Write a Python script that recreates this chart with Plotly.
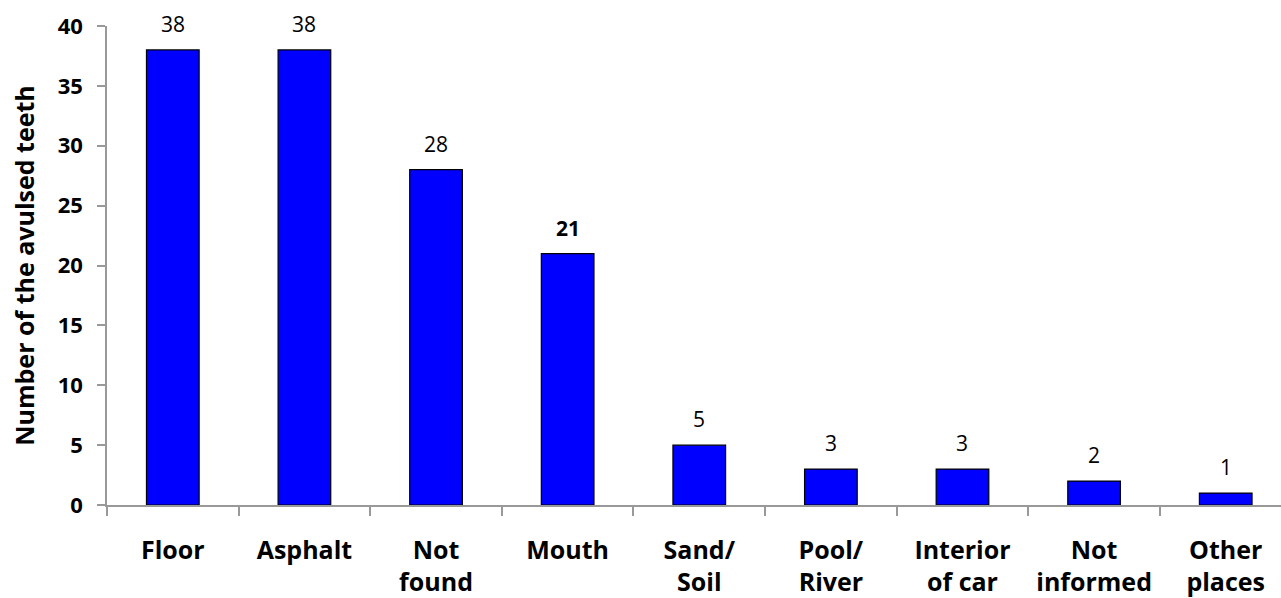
import plotly.graph_objects as go

categories = ["Floor", "Asphalt", "Not<br>found", "Mouth", "Sand/<br>Soil", "Pool/<br>River",
              "Interior<br>of car", "Not<br>informed", "Other<br>places"]
values = [38, 38, 28, 21, 5, 3, 3, 2, 1]
bold_labels = [False, False, False, True, False, False, False, False, False]
y_ticks = [0, 5, 10, 15, 20, 25, 30, 35, 40]

FONT = "Open Sans"
cats = [f"<b>{c}</b>" for c in categories]

fig = go.Figure()
fig.add_trace(go.Bar(
    x=cats, y=values, width=0.40,
    marker=dict(color="#0000FF", line=dict(color="#000000", width=1.2)),
    hoverinfo="skip",
))

for c, v, b in zip(cats, values, bold_labels):
    fig.add_annotation(
        x=c, y=v, text=(f"<b>{v}</b>" if b else str(v)), showarrow=False,
        yanchor="bottom", yshift=10, font=dict(family=FONT, size=21, color="#000"),
    )

fig.update_layout(
    width=1281, height=598,
    margin=dict(l=107, r=0, t=26, b=91),
    plot_bgcolor="white", paper_bgcolor="white",
    showlegend=False,
    font=dict(family=FONT, color="#000"),
)
fig.update_xaxes(
    type="category", range=[-0.5, 8.42],
    tickfont=dict(family=FONT, size=25, color="#000"),
    showline=True, linecolor="#999999", linewidth=1.5,
    ticks="outside", ticklen=9, tickcolor="#999999", tickwidth=1.5,
    tickson="boundaries", showgrid=False, zeroline=False,
    ticklabelstandoff=22,
)
fig.update_yaxes(
    range=[0, 40], tickmode="array", tickvals=y_ticks,
    ticktext=[f"<b>{t}</b>" for t in y_ticks],
    tickfont=dict(family=FONT, size=22, color="#000"),
    showline=True, linecolor="#999999", linewidth=1.5,
    ticks="outside", ticklen=8, tickcolor="#999999", tickwidth=1.5,
    ticklabelstandoff=10,
    showgrid=False, zeroline=False,
    title=dict(text="<b>Number of the avulsed teeth</b>", font=dict(family=FONT, size=25, color="#000"), standoff=16),
)

fig.write_html("out.html")
